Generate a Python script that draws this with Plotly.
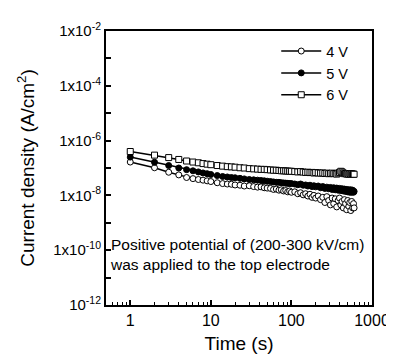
import plotly.graph_objects as go

time_s = [1, 2, 3, 4, 5, 6, 7, 8, 9, 10,
          12, 14, 16, 18, 20, 23, 26, 30, 34, 38, 42, 46, 50,
          55, 60, 65, 70, 75, 80, 85, 90, 95, 100,
          110, 120, 130, 140, 150, 160, 170, 180, 190, 200,
          215, 230, 245, 260, 275, 290, 305, 320, 335, 350, 365, 380, 395,
          410, 425, 440, 455, 470, 485, 500, 515, 530, 545, 560, 575, 590, 600]

j_6v = [4.0e-7, 2.95e-7, 2.4e-7, 2.05e-7, 1.8e-7, 1.65e-7, 1.55e-7, 1.45e-7, 1.38e-7, 1.32e-7,
        1.23e-7, 1.17e-7, 1.12e-7, 1.10e-7, 1.07e-7, 1.02e-7, 1.0e-7, 9.5e-8, 9.3e-8, 9.1e-8, 8.9e-8, 8.9e-8, 8.7e-8,
        8.5e-8, 8.3e-8, 8.3e-8, 8.1e-8, 7.9e-8, 7.9e-8, 7.8e-8, 7.7e-8, 7.6e-8, 7.6e-8,
        7.4e-8, 7.2e-8, 7.4e-8, 7.1e-8, 6.9e-8, 7.0e-8, 6.8e-8, 6.9e-8, 6.6e-8, 6.8e-8,
        6.6e-8, 6.5e-8, 6.6e-8, 6.3e-8, 6.5e-8, 6.2e-8, 6.3e-8, 6.5e-8, 6.2e-8, 6.3e-8, 6.0e-8, 6.5e-8, 6.9e-8,
        7.6e-8, 7.2e-8, 6.6e-8, 6.2e-8, 6.3e-8, 6.0e-8, 6.2e-8, 5.9e-8, 6.3e-8, 6.0e-8, 6.2e-8, 5.9e-8, 6.0e-8, 5.9e-8]

j_5v = [2.5e-7, 1.62e-7, 1.23e-7, 1.0e-7, 8.7e-8, 7.9e-8, 7.2e-8, 6.6e-8, 6.2e-8, 5.8e-8,
        5.3e-8, 4.9e-8, 4.7e-8, 4.5e-8, 4.4e-8, 4.2e-8, 4.0e-8, 3.8e-8, 3.7e-8, 3.6e-8, 3.5e-8, 3.4e-8, 3.3e-8,
        3.2e-8, 3.1e-8, 3.0e-8, 3.0e-8, 2.9e-8, 2.85e-8, 2.8e-8, 2.75e-8, 2.7e-8, 2.7e-8,
        2.6e-8, 2.45e-8, 2.6e-8, 2.35e-8, 2.4e-8, 2.2e-8, 2.35e-8, 2.1e-8, 2.25e-8, 2.05e-8,
        2.2e-8, 1.9e-8, 2.1e-8, 1.8e-8, 2.0e-8, 1.75e-8, 1.95e-8, 1.65e-8, 1.9e-8, 1.6e-8, 1.85e-8, 1.55e-8, 1.8e-8,
        1.5e-8, 1.75e-8, 1.45e-8, 1.7e-8, 1.4e-8, 1.65e-8, 1.35e-8, 1.6e-8, 1.3e-8, 1.6e-8, 1.3e-8, 1.55e-8, 1.3e-8, 1.4e-8]

j_4v = [1.65e-7, 1.02e-7, 7.0e-8, 5.6e-8, 4.5e-8, 4.1e-8, 3.8e-8, 3.6e-8, 3.4e-8, 3.2e-8,
        2.9e-8, 2.7e-8, 2.6e-8, 2.55e-8, 2.4e-8, 2.35e-8, 2.2e-8, 2.25e-8, 2.1e-8, 2.0e-8, 2.05e-8, 1.9e-8, 1.85e-8,
        1.8e-8, 1.65e-8, 1.7e-8, 1.55e-8, 1.6e-8, 1.45e-8, 1.5e-8, 1.35e-8, 1.45e-8, 1.3e-8,
        1.35e-8, 1.15e-8, 1.25e-8, 1.05e-8, 1.15e-8, 9.5e-9, 1.1e-8, 8.5e-9, 1.0e-8, 8.0e-9,
        9.5e-9, 7.0e-9, 8.5e-9, 5.5e-9, 9.0e-9, 6.5e-9, 4.5e-9, 8.0e-9, 5.0e-9, 7.5e-9, 3.8e-9, 6.5e-9, 8.0e-9,
        4.5e-9, 6.0e-9, 3.5e-9, 7.0e-9, 5.0e-9, 3.0e-9, 6.5e-9, 4.0e-9, 5.5e-9, 2.8e-9, 6.0e-9, 3.5e-9, 5.0e-9, 3.5e-9]

series_names = ["4 V", "5 V", "6 V"]
y_tick_vals = [1e-2, 1e-3, 1e-4, 1e-5, 1e-6, 1e-7, 1e-8, 1e-9, 1e-10, 1e-11, 1e-12]
y_tick_text = ["1x10<sup>-2</sup>", "", "1x10<sup>-4</sup>", "", "1x10<sup>-6</sup>", "",
               "1x10<sup>-8</sup>", "", "1x10<sup>-10</sup>", "", "10<sup>-12</sup>"]
x_tick_vals = [1, 10, 100, 1000]
x_tick_text = ["1", "10", "100", "1000"]

FONT = "Liberation Sans, Arial, Helvetica, sans-serif"

fig = go.Figure()
styles = [
    dict(symbol="circle", color="white"),
    dict(symbol="circle", color="black"),
    dict(symbol="square", color="white"),
]
for name, ys, st in zip(series_names, [j_4v, j_5v, j_6v], styles):
    fig.add_trace(go.Scatter(
        x=time_s, y=ys, name=name, mode="lines+markers",
        line=dict(color="black", width=1.5),
        marker=dict(symbol=st["symbol"], size=6, color=st["color"],
                    line=dict(color="black", width=1)),
    ))

axis_common = dict(
    showline=True, linecolor="black", linewidth=2, mirror=True,
    ticks="inside", tickcolor="black", tickwidth=1.5,
    showgrid=False, zeroline=False,
)

fig.update_xaxes(
    type="log", range=[-0.301, 3.0],
    tickvals=x_tick_vals, ticktext=x_tick_text, ticklen=5,
    tickfont=dict(family=FONT, size=16, color="black"),
    minor=dict(ticks="inside", ticklen=3, tickcolor="black", tickwidth=1,
               tickvals=[0.6, 0.7, 0.8, 0.9, 2, 3, 4, 5, 6, 7, 8, 9, 20, 30, 40, 50, 60, 70, 80, 90,
                         200, 300, 400, 500, 600, 700, 800, 900]),
    title=dict(text="Time (s)", font=dict(family=FONT, size=19, color="black"), standoff=8),
    **axis_common,
)
fig.update_yaxes(
    type="log", range=[-12, -2],
    tickvals=y_tick_vals, ticktext=y_tick_text, ticklen=5,
    tickfont=dict(family=FONT, size=15, color="black"),
    title=dict(text="Current density (A/cm<sup>2</sup>)", font=dict(family=FONT, size=19, color="black"),
               standoff=14),
    **axis_common,
)

fig.add_annotation(
    xref="paper", yref="paper", x=0.008, y=0.183, xanchor="left", yanchor="middle",
    text="Positive potential of (200-300 kV/cm)<br>was applied to the top electrode",
    showarrow=False, align="left",
    font=dict(family=FONT, size=15.5, color="black"),
)

fig.update_layout(
    width=394, height=355,
    margin=dict(l=98, r=19, t=20, b=50),
    paper_bgcolor="white", plot_bgcolor="white",
    showlegend=True,
    legend=dict(x=0.64, y=0.985, xanchor="left", yanchor="top",
                bgcolor="rgba(0,0,0,0)", itemwidth=40,
                font=dict(family=FONT, size=14.5, color="black"),
                tracegroupgap=0),
)

fig.write_html("out.html")
